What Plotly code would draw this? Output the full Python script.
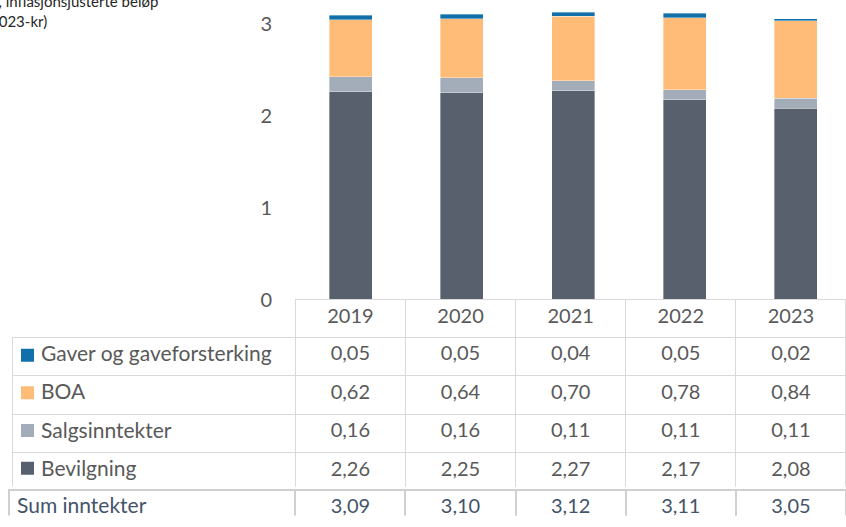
"""Stacked income bars with an Excel-style data table underneath."""

import plotly.graph_objects as go

years = ["2019", "2020", "2021", "2022", "2023"]
gaver = [0.05, 0.05, 0.04, 0.05, 0.02]
boa = [0.62, 0.64, 0.70, 0.78, 0.84]
salg = [0.16, 0.16, 0.11, 0.11, 0.11]
bevilgning = [2.26, 2.25, 2.27, 2.17, 2.08]
sum_inntekter = [3.09, 3.10, 3.12, 3.11, 3.05]

W, H = 846, 527
GRID = "#d9d9d9"
TXT = "#595959"
FONT = "Lato"

# stacking order bottom -> top, table order top -> bottom
series = [
    ("Bevilgning", bevilgning, "#57606c"),
    ("Salgsinntekter", salg, "#a3acb9"),
    ("BOA", boa, "#ffbc79"),
    ("Gaver og gaveforsterking", gaver, "#1170aa"),
]


def fmt(v):
    return f"{v:.2f}".replace(".", ",")


def px_x(p):
    return p / W


def px_y(p):
    return 1 - p / H


fig = go.Figure()
for name, vals, col in series:
    fig.add_trace(
        go.Bar(
            x=years,
            y=vals,
            name=name,
            marker=dict(color=col, line=dict(color="rgba(255,255,255,0.6)", width=0.6)),
            showlegend=False,
        )
    )

rows = list(reversed(series))
# wide spaces leave room for the colour keys; nbsp keeps each label on one line
label_col = ["\u2003\u2005" + name.replace(" ", "\u00a0") for name, _, _ in rows]
value_cols = [[fmt(vals[i]) for _, vals, _ in rows] for i in range(len(years))]

fig.add_trace(
    go.Table(
        domain=dict(x=[px_x(12), 1], y=[px_y(497.5), px_y(306)]),
        columnwidth=[283, 110, 110, 110, 110, 110],
        header=dict(
            values=[""] + years,
            height=37.5,
            align="center",
            fill_color=["rgba(0,0,0,0)"] + ["white"] * 5,
            line=dict(color=["rgba(0,0,0,0)"] + [GRID] * 5, width=1),
            font=dict(family=FONT, size=20, color=TXT),
        ),
        cells=dict(
            values=[label_col] + value_cols,
            height=38.5,
            align=["left"] + ["center"] * 5,
            fill_color=["rgba(0,0,0,0)"] + ["white"] * 5,
            line=dict(color=GRID, width=1),
            font=dict(family=FONT, size=[21] + [20] * 5, color=TXT),
        ),
    )
)

fig.add_trace(
    go.Table(
        domain=dict(x=[px_x(9), 1], y=[0, px_y(500)]),
        columnwidth=[286, 110, 110, 110, 110, 110],
        header=dict(
            values=["Sum\u00a0inntekter"] + [fmt(v) for v in sum_inntekter],
            height=38,
            align=["left"] + ["center"] * 5,
            fill_color="white",
            line=dict(color="#d0d0d0", width=2),
            font=dict(family=FONT, size=[21] + [20] * 5, color="#44546a"),
        ),
        cells=dict(values=[]),
    )
)

# legend keys inside the table's label column
fig.add_trace(
    go.Scatter(
        x=[0.5] * len(rows),
        y=[name for name, _, _ in rows],
        mode="markers",
        marker=dict(symbol="square", size=13, color=[col for _, _, col in rows], line_width=0),
        xaxis="x2",
        yaxis="y2",
        showlegend=False,
        hoverinfo="skip",
    )
)

fig.add_annotation(
    x=px_x(160), y=px_y(1), xref="paper", yref="paper",
    text="Milliarder kroner, inflasjonsjusterte beløp",
    showarrow=False, xanchor="right", yanchor="middle",
    font=dict(family=FONT, size=15, color="#262626"),
)
fig.add_annotation(
    x=px_x(49), y=px_y(21), xref="paper", yref="paper",
    text="(2023-kr)",
    showarrow=False, xanchor="right", yanchor="middle",
    font=dict(family=FONT, size=15, color="#262626"),
)

hidden = dict(showticklabels=False, showgrid=False, zeroline=False, showline=False, ticks="")

fig.update_layout(
    width=W,
    height=H,
    margin=dict(l=0, r=0, t=0, b=0),
    barmode="stack",
    bargap=0.614,
    paper_bgcolor="white",
    plot_bgcolor="rgba(0,0,0,0)",
    font=dict(family=FONT, color=TXT),
    xaxis=dict(domain=[px_x(295), 1], range=[-0.5, 4.45], **hidden),
    yaxis=dict(
        domain=[px_y(306), 1],
        range=[0, 306 / 94],
        tickvals=[0, 1, 2, 3],
        showgrid=False,
        zeroline=False,
        showline=False,
        ticks="",
        ticklabelstandoff=22,
        tickfont=dict(family=FONT, size=20, color=TXT),
    ),
    xaxis2=dict(domain=[px_x(20), px_x(35)], range=[0, 1], anchor="y2", **hidden),
    yaxis2=dict(
        domain=[px_y(497.5), px_y(343.5)],
        range=[-0.5, 3.5],
        type="category",
        categoryorder="array",
        categoryarray=[name for name, _, _ in series],
        anchor="x2",
        **hidden,
    ),
)

fig.write_html(
    "out.html",
    config={"displayModeBar": False},
    post_script="document.body.style.margin='0';document.body.style.overflow='hidden';",
)
